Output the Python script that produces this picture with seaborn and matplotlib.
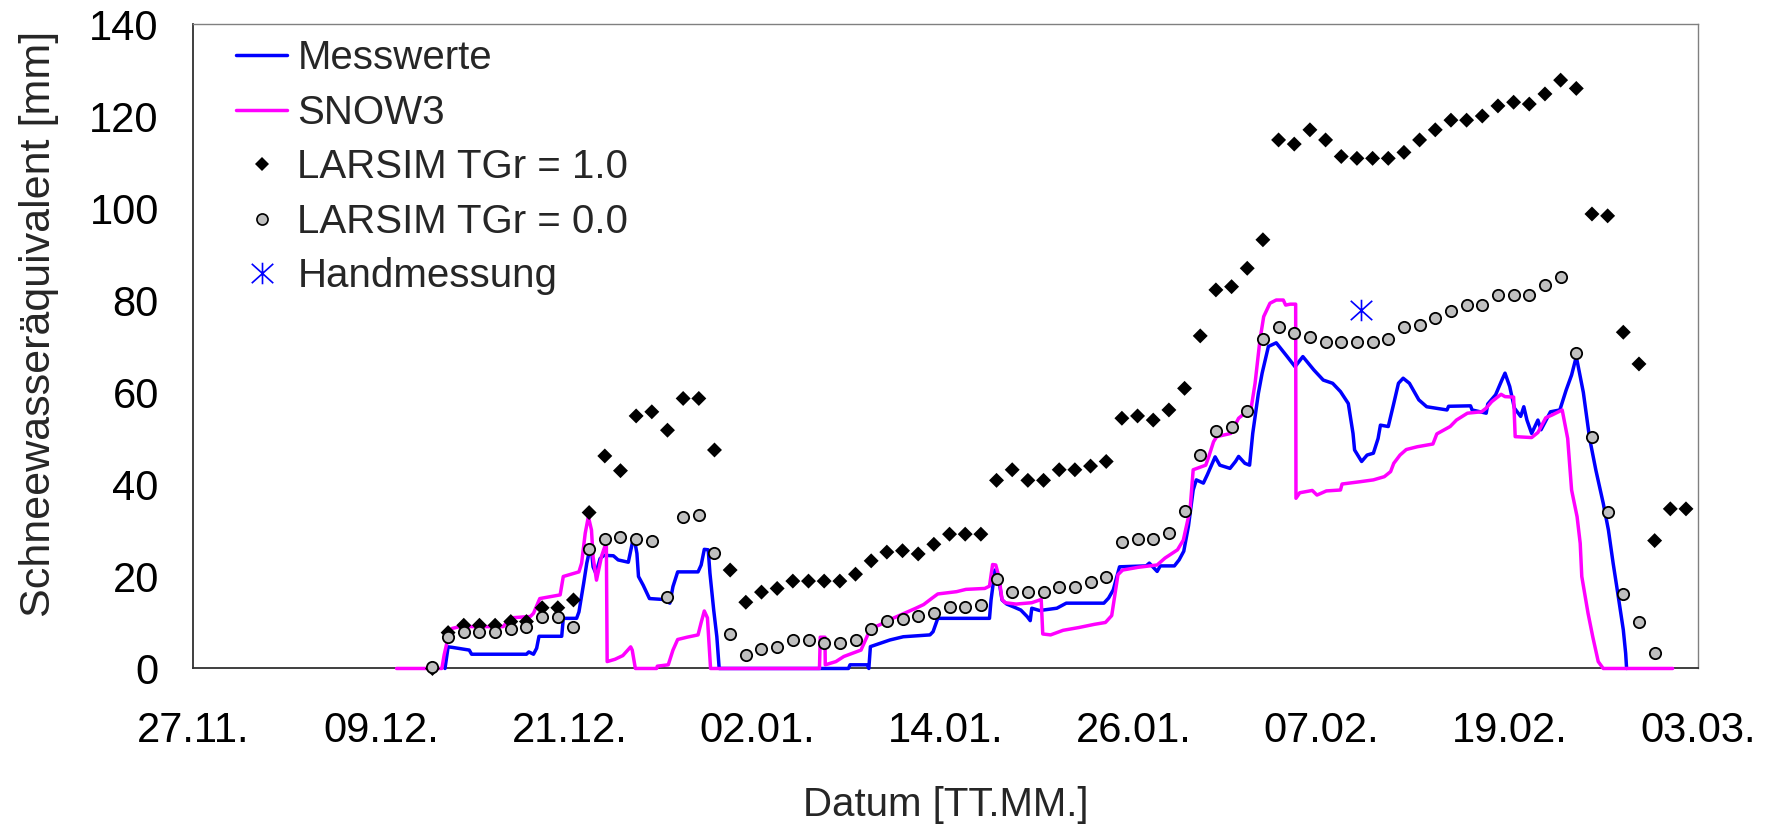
import numpy as np
import pandas as pd
import matplotlib
matplotlib.use("Agg")
import matplotlib.pyplot as plt
from matplotlib.lines import Line2D
from matplotlib.path import Path
import matplotlib.dates as mdates
import seaborn as sns

# ---------------- data ----------------
START = "2005-11-27"          # 27.11.
N_DAYS = 96                   # up to 03.03.
TICK_STEP = 12                # days between date ticks

# Messwerte: days after 27.11. and snow water equivalent [mm]
mess_tage = [16.05, 16.25, 16.5, 17.6, 17.75, 21.25, 21.4, 21.7, 21.9, 22.05,
             23.5, 23.6, 24.45, 24.6, 24.9, 25.1, 25.26, 25.4, 25.5, 25.68,
             25.95, 26.2, 26.8, 27.1, 27.75, 27.96, 28.1, 28.3, 28.4, 28.7,
             29.1, 30.0, 30.4, 30.6, 30.9, 32.2, 32.4, 32.6, 32.85, 32.96,
             33.2, 33.4, 33.55, 41.8, 41.9, 43.0, 43.1, 43.2, 44.45, 45.3,
             47.0, 47.2, 47.5, 50.8, 50.9, 51.15, 51.4, 51.6, 51.9, 52.4,
             52.8, 53.2, 53.4, 53.5, 54.0, 55.1, 55.7, 58.1, 58.4, 58.7,
             59.1, 60.8, 61.0, 61.5, 61.7, 62.6, 62.9, 63.2, 63.5, 63.8,
             64.0, 64.45, 64.7, 65.2, 65.5, 66.15, 66.5, 66.7, 67.1, 67.4,
             67.6, 67.96, 68.2, 68.6, 69.1, 69.8, 70.3, 70.8, 71.5, 72.1,
             72.7, 73.2, 73.7, 74.0, 74.1, 74.55, 74.9, 75.3, 75.6, 75.75,
             76.25, 76.6, 76.9, 77.2, 77.6, 78.2, 78.7, 80.0, 80.1, 81.5,
             81.6, 82.5, 82.6, 83.1, 83.5, 83.7, 84.0, 84.3, 84.7, 84.9,
             85.1, 85.4, 85.8, 86.0, 86.6, 87.2, 87.6, 87.95, 88.25, 88.5,
             88.7, 89.1, 89.5, 89.97, 90.3, 90.6, 90.9, 91.25, 91.4, 91.46]
mess_swe = [0, 4.7, 4.6, 4.0, 3.1, 3.1, 3.6, 3.1, 4.4, 7.0,
            7.0, 10.9, 10.9, 12.3, 18.5, 22.9, 25.4, 25.8, 22.1, 20.7,
            23.9, 24.6, 24.5, 23.6, 23.1, 26.5, 28.8, 25.0, 20.0, 18.1,
            15.2, 15.0, 14.2, 17.8, 21.0, 21.0, 22.5, 25.9, 25.8, 20.7,
            12.7, 6.9, 0, 0, 0.8, 0.8, 0, 4.75, 6.2, 6.9,
            7.3, 8.0, 10.9, 10.9, 14.9, 21.4, 19.2, 14.9, 14.0, 13.3,
            12.7, 11.3, 10.4, 13.1, 12.6, 13.1, 14.2, 14.2, 15.3, 17.1,
            22.1, 22.3, 22.9, 21.1, 22.3, 22.3, 23.6, 25.5, 31.0, 38.8,
            41.0, 40.3, 42.1, 46.0, 44.2, 43.5, 45.0, 46.1, 44.6, 44.2,
            51.1, 59.8, 64.2, 70.0, 70.8, 67.8, 65.6, 67.8, 64.9, 62.7,
            62.0, 60.2, 57.6, 51.1, 47.5, 45.0, 46.4, 46.8, 50.0, 52.9,
            52.6, 57.6, 62.0, 63.1, 62.0, 58.4, 56.9, 56.2, 57.0, 57.1,
            56.2, 55.5, 57.5, 59.5, 62.7, 64.2, 61.3, 56.6, 54.8, 56.9,
            54.0, 51.1, 54.0, 51.9, 55.8, 56.2, 60.5, 63.8, 67.8, 63.5,
            60.0, 50.0, 43.1, 35.9, 30.1, 22.9, 16.3, 8.4, 3.3, 0]

# SNOW3 model
snow3_tage = [12.96, 15.85, 16.0, 16.3, 16.5, 17.0, 19.77, 20.2, 21.5, 21.7,
              22.1, 23.4, 23.6, 24.6, 24.77, 25.0, 25.2, 25.4, 25.5, 25.72,
              26.05, 26.25, 26.35, 26.4, 26.9, 27.4, 27.9, 28.0, 28.2, 29.56,
              29.6, 30.3, 30.6, 30.9, 31.5, 32.2, 32.4, 32.6, 32.8, 33.0,
              39.95, 40.0, 40.3, 40.32, 41.0, 41.5, 41.9, 42.6, 43.2, 43.8,
              44.5, 45.3, 46.1, 46.6, 47.1, 47.5, 48.7, 49.3, 50.5, 50.8,
              51.0, 51.2, 51.4, 51.6, 51.8, 52.5, 53.5, 54.1, 54.2, 54.7,
              55.5, 56.5, 57.5, 58.2, 58.6, 59.0, 59.3, 60.3, 61.5, 62.0,
              62.8, 63.17, 63.6, 63.8, 64.6, 64.8, 65.1, 65.3, 66.2, 66.7,
              67.2, 67.5, 67.75, 68.06, 68.3, 68.7, 69.1, 69.55, 69.7, 70.0,
              70.34, 70.36, 70.6, 71.4, 71.7, 72.3, 73.2, 73.3, 74.45, 75.3,
              76.0, 76.4, 76.6, 77.0, 77.4, 78.1, 79.1, 79.35, 80.2, 80.6,
              81.3, 82.2, 82.5, 82.85, 83.45, 83.7, 84.25, 84.35, 85.4, 85.8,
              86.3, 86.7, 87.35, 87.7, 87.95, 88.3, 88.5, 88.6, 89.0, 89.3,
              89.65, 89.97, 94.4]
snow3_swe = [0, 0, 3.0, 7.5, 8.7, 9.1, 9.1, 11.0, 11.3, 12.0,
             15.2, 16.0, 20.0, 21.0, 22.9, 29.4, 33.0, 30.1, 24.3, 19.2,
             24.5, 26.5, 26.5, 1.5, 2.0, 2.8, 4.7, 4.0, 0, 0,
             0.5, 0.8, 4.0, 6.3, 6.8, 7.3, 10.0, 12.5, 11.0, 0,
             0, 6.8, 6.8, 0.8, 1.5, 2.6, 3.1, 4.0, 8.6, 9.5,
             10.7, 11.9, 13.1, 13.9, 15.2, 16.2, 16.7, 17.2, 17.4, 17.9,
             22.6, 22.5, 20.0, 15.0, 14.3, 14.0, 14.3, 15.0, 7.5, 7.3,
             8.3, 8.9, 9.6, 10.0, 11.5, 20.4, 21.4, 22.0, 22.5, 24.0,
             25.8, 27.9, 34.5, 43.2, 44.2, 46.1, 49.3, 50.4, 51.1, 54.4,
             55.8, 56.6, 62.0, 71.4, 76.5, 79.4, 80.1, 80.1, 79.0, 79.2,
             79.2, 37.0, 38.2, 38.7, 37.7, 38.6, 38.8, 40.1, 40.6, 41.0,
             41.7, 42.8, 44.6, 46.4, 47.6, 48.2, 48.8, 51.0, 52.6, 54.0,
             55.5, 55.8, 56.6, 58.0, 59.6, 59.1, 59.0, 50.4, 50.2, 51.3,
             54.5, 55.1, 56.2, 50.0, 38.8, 33.0, 27.2, 20.0, 12.0, 6.9,
             1.5, 0, 0]

# LARSIM daily values (from 12.12., 06:00)
LARSIM_START = "2005-12-12 06:00"
larsim_tgr10 = [0, 7.8, 9.4, 9.4, 9.4, 10.2, 10.2, 13.2, 13.2, 14.9,
                33.9, 46.2, 43.0, 54.9, 55.8, 51.8, 58.7, 58.7, 47.5, 21.4,
                14.4, 16.6, 17.4, 19.0, 19.0, 19.0, 19.0, 20.5, 23.4, 25.3,
                25.6, 24.9, 27.0, 29.2, 29.2, 29.2, 40.9, 43.2, 40.9, 40.9,
                43.2, 43.2, 44.0, 45.0, 54.4, 54.9, 54.0, 56.2, 60.9, 72.3,
                82.3, 83.0, 87.0, 93.2, 114.9, 114.0, 117.1, 114.9, 111.3, 110.9,
                110.9, 110.9, 112.2, 114.9, 117.1, 119.2, 119.2, 120.1, 122.3, 123.1,
                122.7, 124.9, 127.9, 126.1, 98.8, 98.4, 73.1, 66.2, 27.8, 34.7, 34.7]
larsim_tgr00 = [0.4, 6.9, 8.0, 8.0, 8.0, 8.5, 9.0, 11.1, 11.1, 9.0,
                25.9, 28.1, 28.5, 28.1, 27.7, 15.5, 32.9, 33.3, 25.0, 7.6,
                2.9, 4.2, 4.7, 6.1, 6.1, 5.5, 5.5, 6.3, 8.5, 10.4,
                10.8, 11.5, 12.0, 13.3, 13.3, 13.7, 19.4, 16.7, 16.7, 16.7,
                17.7, 17.7, 18.7, 19.8, 27.6, 28.2, 28.2, 29.4, 34.2, 46.4,
                51.6, 52.4, 56.0, 71.6, 74.2, 72.9, 72.0, 71.0, 71.0, 71.0,
                71.0, 71.6, 74.2, 74.6, 76.3, 77.7, 79.0, 79.0, 81.1, 81.1,
                81.1, 83.3, 85.0, 68.5, 50.3, 34.1, 16.3, 10.2, 3.3]

# Handmessung
hand_datum = ["2006-02-09 13:00"]
hand_swe = [78]

labels = ["Messwerte", "SNOW3", "LARSIM TGr = 1.0", "LARSIM TGr = 0.0", "Handmessung"]

# ---------------- build frames ----------------
t0 = pd.Timestamp(START)
mess_df = pd.DataFrame({"Datum": t0 + pd.to_timedelta(mess_tage, unit="D"), "SWE": mess_swe})
snow_df = pd.DataFrame({"Datum": t0 + pd.to_timedelta(snow3_tage, unit="D"), "SWE": snow3_swe})
l10_df = pd.DataFrame({"Datum": pd.date_range(LARSIM_START, periods=len(larsim_tgr10), freq="D"),
                       "SWE": larsim_tgr10})
l00_df = pd.DataFrame({"Datum": pd.date_range(LARSIM_START, periods=len(larsim_tgr00), freq="D"),
                       "SWE": larsim_tgr00})
hand_df = pd.DataFrame({"Datum": pd.to_datetime(hand_datum), "SWE": hand_swe})

# ---------------- style ----------------
sns.set_style("white")
plt.rcParams["font.family"] = ["Liberation Sans", "DejaVu Sans"]
FS = 29
FS_TICK = 30

BLUE = "#0000FF"
MAGENTA = "#FF00FF"
SILVER = "#C0C0C0"

fig = plt.figure(figsize=(17.67, 8.30), dpi=100)
ax = fig.add_axes([0.1095, 0.1946, 0.8513, 0.7759])

sns.lineplot(data=mess_df, x="Datum", y="SWE", ax=ax, color=BLUE, lw=2.5,
             estimator=None, sort=False, clip_on=False, zorder=3)
sns.lineplot(data=snow_df, x="Datum", y="SWE", ax=ax, color=MAGENTA, lw=2.5,
             estimator=None, sort=False, clip_on=False, zorder=4)
sns.scatterplot(data=l10_df, x="Datum", y="SWE", ax=ax, marker="D", s=58,
                color="black", edgecolor="none", linewidth=0, clip_on=False,
                zorder=5, legend=False)
sns.scatterplot(data=l00_df, x="Datum", y="SWE", ax=ax, marker="o", s=66,
                color=SILVER, edgecolor="black", linewidth=1.3, clip_on=False,
                zorder=6, legend=False)

star = Path([(0, -1), (0, 1), (-1, -0.9), (1, 0.9), (-1, 0.9), (1, -0.9)],
            [Path.MOVETO, Path.LINETO, Path.MOVETO, Path.LINETO, Path.MOVETO, Path.LINETO])
sns.scatterplot(data=hand_df, x="Datum", y="SWE", ax=ax, marker=star, s=240,
                color=BLUE, edgecolor=BLUE, linewidth=1.2, zorder=7, legend=False)

# axes
ax.set_xlim(t0, t0 + pd.Timedelta(days=N_DAYS))
ax.set_ylim(0, 140)
ax.set_yticks(np.arange(0, 141, 20))
ax.set_xticks(pd.date_range(t0, periods=N_DAYS // TICK_STEP + 1, freq=f"{TICK_STEP}D"))
ax.xaxis.set_major_formatter(mdates.DateFormatter("%d.%m."))

ax.tick_params(axis="both", direction="out", length=10, width=1.2, color="#505050",
               labelsize=FS_TICK, labelcolor="black")
ax.tick_params(axis="x", pad=20.5)
ax.tick_params(axis="y", pad=15)

for side in ["left", "bottom"]:
    ax.spines[side].set_color("#303030")
    ax.spines[side].set_linewidth(1.3)
for side in ["top", "right"]:
    ax.spines[side].set_color("#808080")
    ax.spines[side].set_linewidth(1.0)

ax.set_xlabel("Datum [TT.MM.]", fontsize=FS)
ax.set_ylabel("Schneewasseräquivalent [mm]", fontsize=31)
ax.xaxis.set_label_coords(0.5, -0.183)
ax.yaxis.set_label_coords(-0.0895, 0.535)

handles = [
    Line2D([], [], color=BLUE, lw=2.5),
    Line2D([], [], color=MAGENTA, lw=2.5),
    Line2D([], [], ls="", marker="D", ms=6.8, mfc="black", mec="black", mew=0),
    Line2D([], [], ls="", marker="o", ms=8.0, mfc=SILVER, mec="black", mew=1.2),
    Line2D([], [], ls="", marker=star, ms=15.5, mfc="none", mec=BLUE, mew=1.2),
]
ax.legend(handles, labels, loc="upper left", bbox_to_anchor=(0.0283, 0.977),
          frameon=False, fontsize=FS, handlelength=1.27, handletextpad=0.25,
          labelspacing=0.41, borderpad=0, borderaxespad=0)

fig.savefig("out.png", dpi=100)
